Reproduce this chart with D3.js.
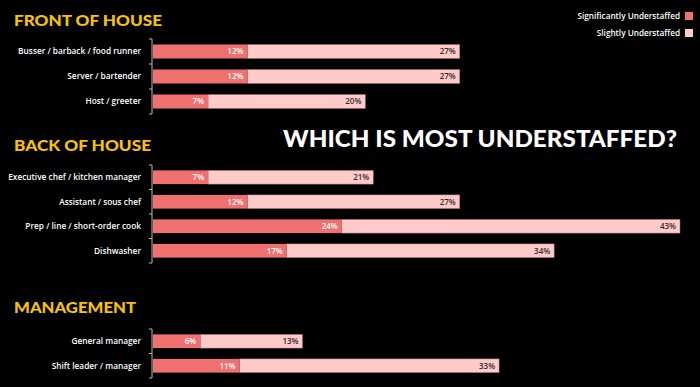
<!DOCTYPE html>
<html><head><meta charset="utf-8">
<script src="https://cdn.jsdelivr.net/npm/d3@7"></script>
<style>
html,body{margin:0;padding:0;background:#000;}
svg{display:block;}
</style></head>
<body>
<svg id="c" width="700" height="387"></svg>
<script>
const groupNames = ["FRONT OF HOUSE", "BACK OF HOUSE", "MANAGEMENT"];
const frontRoles = ["Busser / barback / food runner", "Server / bartender", "Host / greeter"];
const frontSig = [12, 12, 7];
const frontSlight = [27, 27, 20];
const backRoles = ["Executive chef / kitchen manager", "Assistant / sous chef", "Prep / line / short-order cook", "Dishwasher"];
const backSig = [7, 12, 24, 17];
const backSlight = [21, 27, 43, 34];
const mgmtRoles = ["General manager", "Shift leader / manager"];
const mgmtSig = [6, 11];
const mgmtSlight = [13, 33];
const seriesNames = ["Significantly Understaffed", "Slightly Understaffed"];
const title = "WHICH IS MOST UNDERSTAFFED?";

const sigColor = "#f07070", slightColor = "#ffcaca";
const svg = d3.select("#c");
const font = "'Open Sans', sans-serif";
const x = d3.scaleLinear().domain([0, 67]).range([153, 680]);

const groups = [
  {name: groupNames[0], roles: frontRoles, sig: frontSig, slight: frontSlight, titleY: 26, titleW: 148, y0: 39, y1: 114},
  {name: groupNames[1], roles: backRoles, sig: backSig, slight: backSlight, titleY: 151, titleW: 137, y0: 165, y1: 263},
  {name: groupNames[2], roles: mgmtRoles, sig: mgmtSig, slight: mgmtSlight, titleY: 313, titleW: 122, y0: 329, y1: 378}
];

groups.forEach(g => {
  svg.append("text").attr("x", 14).attr("y", g.titleY).text(g.name)
    .attr("fill", "#f7c30a").attr("font-family", "Lato, sans-serif").attr("font-weight", 900)
    .attr("font-size", 15.5).attr("textLength", g.titleW).attr("lengthAdjust", "spacingAndGlyphs");
  const y = d3.scaleBand().domain(g.roles).range([g.y0, g.y1]).paddingInner(0.44).paddingOuter(0.22);
  const ax = svg.append("g");
  ax.append("line").attr("x1", 152).attr("x2", 152).attr("y1", g.y0).attr("y2", g.y1)
    .attr("stroke", "#bbb").attr("stroke-width", 1);
  const step = y.step();
  const bounds = [g.y0].concat(g.roles.slice(1).map(r => y(r) - step * y.paddingInner() / 2)).concat([g.y1]);
  bounds.forEach(b => ax.append("line").attr("x1", 149).attr("x2", 152).attr("y1", b).attr("y2", b)
    .attr("stroke", "#bbb").attr("stroke-width", 1));
  g.roles.forEach((r, i) => {
    const by = y(r), bh = y.bandwidth();
    svg.append("text").attr("x", 141).attr("y", by + bh / 2).attr("dy", "0.35em")
      .attr("text-anchor", "end").text(r).attr("fill", "#fff")
      .attr("font-family", font).attr("font-weight", 600).attr("font-size", 8.3);
    const s = g.sig[i], t = g.slight[i];
    svg.append("rect").attr("x", x(s)).attr("y", by).attr("width", x(s + t) - x(s)).attr("height", bh)
      .attr("fill", slightColor).attr("stroke", "#9a6a6a").attr("stroke-width", 0.5);
    svg.append("rect").attr("x", x(0)).attr("y", by).attr("width", x(s) - x(0)).attr("height", bh)
      .attr("fill", sigColor);
    svg.append("text").attr("x", x(s) - 4).attr("y", by + bh / 2).attr("dy", "0.35em")
      .attr("text-anchor", "end").text(s + "%").attr("fill", "#fff")
      .attr("font-family", font).attr("font-weight", 600).attr("font-size", 8);
    svg.append("text").attr("x", x(s + t) - 4).attr("y", by + bh / 2).attr("dy", "0.35em")
      .attr("text-anchor", "end").text(t + "%").attr("fill", "#3a2a2a")
      .attr("font-family", font).attr("font-weight", 600).attr("font-size", 8);
  });
});

svg.append("text").attr("x", 283).attr("y", 147).text(title)
  .attr("fill", "#fff").attr("font-family", "Lato, sans-serif").attr("font-weight", 900)
  .attr("font-size", 22).attr("textLength", 394).attr("lengthAdjust", "spacingAndGlyphs");

const legend = svg.append("g");
seriesNames.forEach((n, i) => {
  const ly = 16 + i * 17;
  legend.append("text").attr("x", 680).attr("y", ly).attr("dy", "0.35em").attr("text-anchor", "end")
    .text(n).attr("fill", "#fff").attr("font-family", font).attr("font-weight", 600).attr("font-size", 8.2);
  legend.append("rect").attr("x", 685).attr("y", ly - 4).attr("width", 8).attr("height", 8)
    .attr("fill", i === 0 ? sigColor : slightColor);
});
</script>
</body></html>
